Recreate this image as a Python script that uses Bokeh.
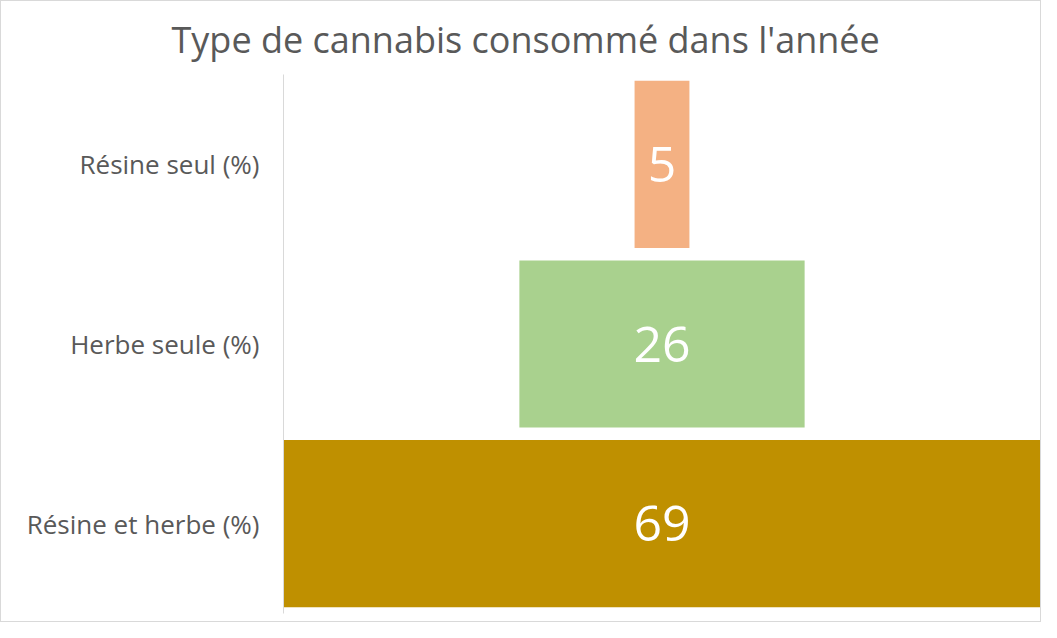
from bokeh.plotting import figure
from bokeh.models import Range1d, FactorRange, Title, ColumnDataSource
from bokeh.core.properties import value
from bokeh.embed import file_html
from bokeh.resources import INLINE

title_text = "Type de cannabis consommé dans l'année"
categories = ["Résine seul (%)", "Herbe seule (%)", "Résine et herbe (%)"]
values = [5, 26, 69]
colors = ["#F4B183", "#A9D18E", "#BF9000"]

FONT = "Open Sans"
TEXT_GRAY = "#595959"

half = [v / 2 for v in values]
src = ColumnDataSource(dict(
    cat=categories,
    left=[-h for h in half],
    right=half,
    color=colors,
    label=[str(v) for v in values],
    zero=[0] * len(values),
))

maxv = max(values)
p = figure(
    width=1041, height=622,
    y_range=FactorRange(*reversed(categories)),
    x_range=Range1d(-maxv / 2, maxv / 2),
    output_backend="svg", toolbar_location=None,
    min_border_left=282, min_border_right=2,
    min_border_top=73, min_border_bottom=10,
)
p.styles = {"border": "1px solid #d9d9d9"}

p.hbar(y="cat", left="left", right="right", height=0.93,
       fill_color="color", line_color=None, source=src)
p.text(x="zero", y="cat", text="label", source=src,
       text_align="center", text_baseline="middle",
       text_color="white", text_font=value(FONT), text_font_size="50px")

p.xaxis.visible = False
p.xgrid.visible = False
p.ygrid.visible = False
p.outline_line_color = None

ax = p.yaxis[0]
ax.axis_line_color = "#d9d9d9"
ax.axis_line_width = 1
ax.major_tick_line_color = None
ax.minor_tick_line_color = None
ax.major_label_standoff = 18
ax.major_label_text_font = FONT
ax.major_label_text_font_size = "26px"
ax.major_label_text_color = TEXT_GRAY

title = Title(text=title_text, align="left", offset=-112, standoff=21,
              text_font=FONT, text_font_size="36px", text_font_style="normal",
              text_color=TEXT_GRAY)
p.add_layout(title, "above")

open("out.html", "w").write(file_html(p, INLINE))
